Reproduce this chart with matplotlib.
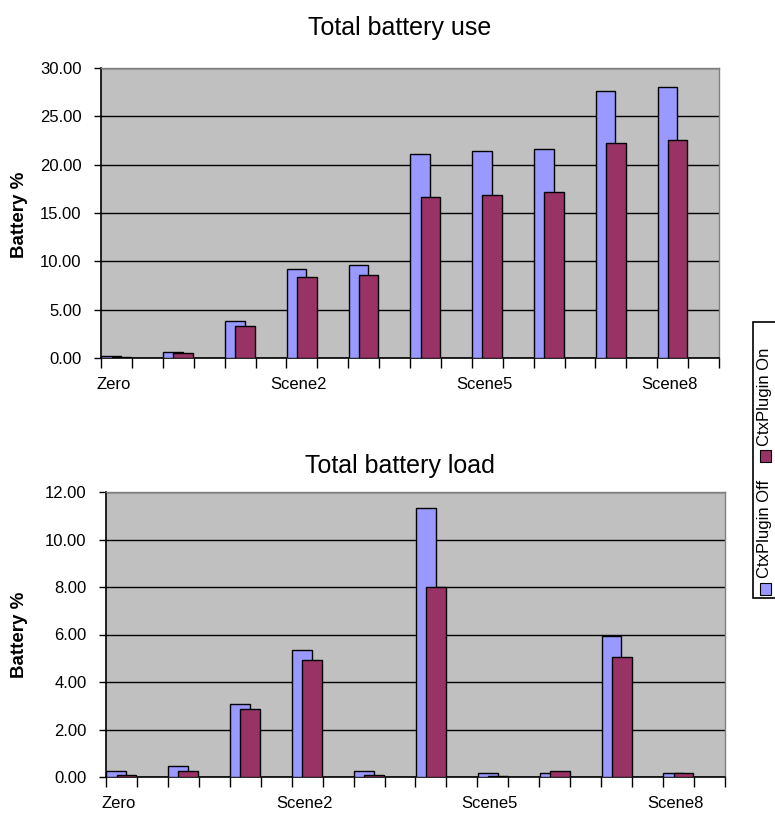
import numpy as np
import matplotlib.pyplot as plt
from matplotlib.patches import Rectangle

plt.rcParams['font.family'] = ['Liberation Sans', 'DejaVu Sans']

# values (battery %)
use_off = [0.18, 0.65, 3.86, 9.24, 9.58, 21.07, 21.45, 21.60, 27.65, 28.00]
use_on = [0.12, 0.48, 3.35, 8.41, 8.58, 16.70, 16.86, 17.20, 22.27, 22.60]
load_off = [0.27, 0.46, 3.07, 5.33, 0.27, 11.31, 0.17, 0.17, 5.92, 0.17]
load_on = [0.10, 0.24, 2.88, 4.93, 0.10, 8.01, 0.05, 0.25, 5.05, 0.17]

tick_labels = ['Zero', 'Scene2', 'Scene5', 'Scene8']
label_groups = [0, 3, 6, 9]
series_names = ['CtxPlugin Off', 'CtxPlugin On']

c_off = '#9999FF'
c_on = '#993366'
W, H = 775, 814


def fx(px):
    return px / W


def fy(py):
    return 1 - py / H


def draw(ax, off, on, ymax, step):
    x = np.arange(len(off)) * 2
    ax.set_facecolor('#C0C0C0')
    ax.bar(x + 0.01, off, width=0.64, align='edge', color=c_off,
           edgecolor='black', linewidth=1, zorder=3)
    ax.bar(x + 0.34, on, width=0.64, align='edge', color=c_on,
           edgecolor='black', linewidth=1, zorder=4)
    ax.set_xlim(0, 2 * len(off))
    ax.set_ylim(0, ymax)
    yt = np.arange(0, ymax + step / 2, step)
    ax.set_yticks(yt)
    ax.set_yticklabels(['%.2f' % v for v in yt], fontsize=12)
    ax.yaxis.grid(True, color='black', linewidth=1)
    ax.set_axisbelow(True)
    ax.set_xticks(np.arange(0, 2 * len(off) + 1))
    ax.set_xticklabels([])
    ax.set_xticks([2 * g + 0.4 for g in label_groups], minor=True)
    ax.set_xticklabels(tick_labels, minor=True, fontsize=12)
    ax.tick_params(axis='x', which='major', length=7, width=1, direction='out')
    ax.tick_params(axis='x', which='minor', length=0, pad=14)
    ax.tick_params(axis='y', length=5, width=1, pad=9)
    for s in ['left', 'bottom']:
        ax.spines[s].set_color('black')
        ax.spines[s].set_linewidth(1.2)
    for s in ['top', 'right']:
        ax.spines[s].set_color('#808080')
        ax.spines[s].set_linewidth(1)


fig = plt.figure(figsize=(W / 100, H / 100), dpi=100)

ax1 = fig.add_axes([fx(101), fy(358), fx(719) - fx(101), fy(68) - fy(358)])
draw(ax1, use_off, use_on, 30, 5)
ax2 = fig.add_axes([fx(106), fy(777), fx(725) - fx(106), fy(492) - fy(777)])
draw(ax2, load_off, load_on, 12, 2)

fig.text(fx(400), fy(28), 'Total battery use', fontsize=18, ha='center', va='center')
fig.text(fx(400), fy(466), 'Total battery load', fontsize=18, ha='center', va='center')
fig.text(fx(20), fy(215), 'Battery %', fontsize=13.5, fontweight='bold',
         rotation=90, ha='center', va='center')
fig.text(fx(20), fy(635), 'Battery %', fontsize=13.5, fontweight='bold',
         rotation=90, ha='center', va='center')

# vertical legend on the right edge
fig.add_artist(Rectangle((fx(753), fy(598)), fx(40), fy(322) - fy(598),
                         transform=fig.transFigure, facecolor='white',
                         edgecolor='black', linewidth=1.2, clip_on=False))
fig.add_artist(Rectangle((fx(760), fy(595)), fx(11), fy(583) - fy(595),
                         transform=fig.transFigure, facecolor=c_off,
                         edgecolor='black', linewidth=0.8))
fig.add_artist(Rectangle((fx(760), fy(462)), fx(11), fy(450) - fy(462),
                         transform=fig.transFigure, facecolor=c_on,
                         edgecolor='black', linewidth=0.8))
fig.text(fx(764), fy(578), series_names[0], fontsize=12, rotation=90,
         ha='center', va='bottom')
fig.text(fx(764), fy(446), series_names[1], fontsize=12, rotation=90,
         ha='center', va='bottom')

fig.savefig('out.png', dpi=100)
